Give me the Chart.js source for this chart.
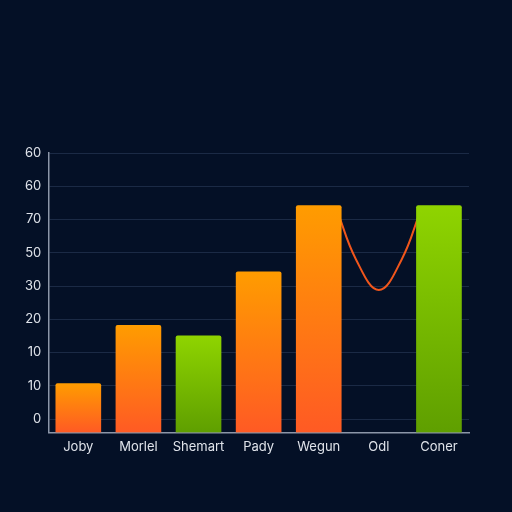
<!DOCTYPE html>
<html>
<head>
<meta charset="utf-8">
<style>
  html, body { margin: 0; padding: 0; background: #041026; }
  #wrap { width: 512px; height: 512px; position: relative; }
  canvas { display: block; }
</style>
<script src="https://cdn.jsdelivr.net/npm/chart.js@4/dist/chart.umd.min.js"></script>
</head>
<body>
<div id="wrap"><canvas id="c" width="512" height="512"></canvas></div>
<script>
// ---- data ----
const categories = ['Joby', 'Morlel', 'Shemart', 'Pady', 'Wegun', 'Odl', 'Coner'];
const barValues = [10.7, 28.2, 25.0, 44.3, 64.2, null, 64.2];
const barColorKind = ['orange', 'orange', 'green', 'orange', 'orange', 'orange', 'green'];
// y tick labels as printed on the chart, bottom to top (one per 10 units)
const yTickLabels = ['0', '10', '10', '20', '30', '50', '70', '60', '60'];
// decorative curve between Wegun and Coner (x in category index units)
const curveX = [4.3, 4.62, 5.0, 5.38, 5.7];
const curveY = [63, 48, 38.8, 48, 63];
const axisFloor = -4;

const palette = {
  orange: ['#ff9c00', '#ff5a24'],
  green: ['#8fd400', '#5f9f00']
};

function barFill(ctx) {
  const chart = ctx.chart;
  const kind = barColorKind[ctx.dataIndex] || 'orange';
  const cols = palette[kind];
  const area = chart.chartArea;
  const v = ctx.raw;
  if (!area || v == null) return cols[0];
  const ys = chart.scales.y;
  const top = ys.getPixelForValue(v);
  const bot = ys.getPixelForValue(axisFloor);
  if (!isFinite(top) || !isFinite(bot) || top === bot) return cols[0];
  const g = chart.ctx.createLinearGradient(0, top, 0, bot);
  g.addColorStop(0, cols[0]);
  g.addColorStop(1, cols[1]);
  return g;
}

const curveData = curveX.map((x, i) => ({ x: x, y: curveY[i] }));

new Chart(document.getElementById('c'), {
  data: {
    labels: categories,
    datasets: [
      {
        type: 'bar',
        data: barValues,
        base: axisFloor,
        backgroundColor: barFill,
        borderRadius: { topLeft: 2, topRight: 2 },
        borderSkipped: 'bottom',
        barThickness: 45,
        grouped: false,
        xAxisID: 'x',
        order: 1
      },
      {
        type: 'line',
        data: curveData,
        xAxisID: 'x2',
        borderColor: '#f0561c',
        borderWidth: 2,
        pointRadius: 0,
        fill: false,
        tension: 0.4,
        order: 2
      }
    ]
  },
  options: {
    responsive: false,
    animation: false,
    devicePixelRatio: 1,
    layout: { padding: { top: 153, right: 43, left: 18, bottom: 50 } },
    plugins: { legend: { display: false }, tooltip: { enabled: false } },
    scales: {
      x: {
        type: 'category',
        offset: true,
        grid: { display: false, drawTicks: false },
        border: { display: true, color: '#8c96a8', width: 1.5 },
        ticks: {
          color: '#dfe3ea',
          font: { family: 'Inter', size: 13 },
          padding: 7,
          maxRotation: 0,
          autoSkip: false
        }
      },
      x2: {
        type: 'linear',
        display: false,
        min: -0.5,
        max: 6.5
      },
      y: {
        type: 'linear',
        min: axisFloor,
        max: 80,
        grid: { color: '#1b2a45', lineWidth: 1, drawTicks: false },
        border: { display: true, color: '#8c96a8', width: 1.5 },
        afterBuildTicks: (scale) => {
          scale.ticks = yTickLabels.map((_, i) => ({ value: i * 10 }));
        },
        ticks: {
          color: '#dfe3ea',
          font: { family: 'Inter', size: 13 },
          padding: 7,
          callback: (v) => {
            const i = Math.round(v / 10);
            return yTickLabels[i] !== undefined ? yTickLabels[i] : '';
          }
        }
      }
    }
  },
  plugins: [{
    id: 'bg',
    beforeDraw(chart) {
      const c = chart.ctx;
      c.save();
      c.fillStyle = '#041026';
      c.fillRect(0, 0, chart.width, chart.height);
      c.restore();
    }
  }]
});
</script>
</body>
</html>
